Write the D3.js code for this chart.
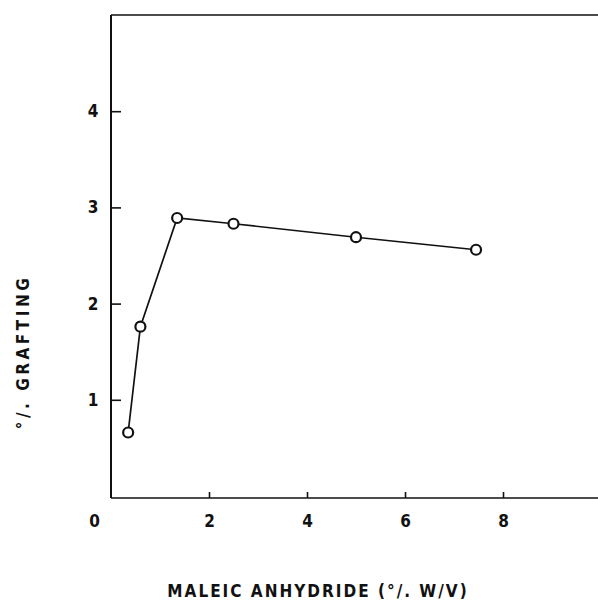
<!DOCTYPE html>
<html>
<head>
<meta charset="utf-8">
<script src="https://cdn.jsdelivr.net/npm/d3@7"></script>
<style>
  body { margin: 0; background: #fff; }
  svg { display: block; }
  text { font-family: "DejaVu Sans Condensed", "DejaVu Sans", sans-serif; font-weight: bold; fill: #111; }
</style>
</head>
<body>
<svg id="chart" width="598" height="600"></svg>
<script>
// maleic anhydride concentration (% w/v) vs % grafting
var anhydride = [0.35, 0.6, 1.35, 2.5, 5.0, 7.45];
var grafting = [0.66, 1.76, 2.89, 2.83, 2.69, 2.56];
var xTicks = [0, 2, 4, 6, 8];
var yTicks = [1, 2, 3, 4];

var svg = d3.select('#chart');

var x = d3.scaleLinear().domain([0, 10]).range([111, 601]);
var y = d3.scaleLinear().domain([0, 5]).range([496, 15]);

var points = anhydride.map(function(d, i) {
    return { x: d, y: grafting[i] };
});

// frame: left, bottom, top (right side runs off the page)
svg.append('line')
    .attr('x1', x(0)).attr('x2', x(0))
    .attr('y1', y(5)).attr('y2', 498)
    .attr('stroke', '#111').attr('stroke-width', 2);
svg.append('line')
    .attr('x1', x(0)).attr('x2', 598)
    .attr('y1', 498).attr('y2', 498)
    .attr('stroke', '#111').attr('stroke-width', 1.6);
svg.append('line')
    .attr('x1', x(0)).attr('x2', 598)
    .attr('y1', y(5)).attr('y2', y(5))
    .attr('stroke', '#111').attr('stroke-width', 1.6);

// y axis, ticks pointing inward
var yAxis = d3.axisRight(y)
    .tickValues(yTicks)
    .tickSize(10)
    .tickFormat(d3.format('d'));
var gy = svg.append('g')
    .attr('transform', 'translate(' + x(0) + ',0)')
    .call(yAxis);
gy.select('.domain').remove();
gy.selectAll('.tick line').attr('stroke', '#111').attr('stroke-width', 1.6);
gy.selectAll('.tick text')
    .attr('x', -18)
    .attr('text-anchor', 'middle')
    .attr('font-size', 17);

// x axis, ticks pointing up
var xAxis = d3.axisBottom(x)
    .tickValues(xTicks)
    .tickSize(-6)
    .tickFormat(d3.format('d'));
var gx = svg.append('g')
    .attr('transform', 'translate(0,498)')
    .call(xAxis);
gx.select('.domain').remove();
gx.selectAll('.tick line')
    .attr('stroke', '#111').attr('stroke-width', 1.6)
    .attr('opacity', function(d) { return d === 0 ? 0 : 1; });
gx.selectAll('.tick text')
    .attr('y', 17)
    .attr('dx', function(d) { return d === 0 ? -17 : 0; })
    .attr('font-size', 17);

// data line and open circles
var line = d3.line()
    .x(function(d) { return x(d.x); })
    .y(function(d) { return y(d.y); });

svg.append('path')
    .datum(points)
    .attr('d', line)
    .attr('fill', 'none')
    .attr('stroke', '#111')
    .attr('stroke-width', 1.7);

svg.selectAll('circle')
    .data(points)
    .enter()
    .append('circle')
    .attr('cx', function(d) { return x(d.x); })
    .attr('cy', function(d) { return y(d.y); })
    .attr('r', 5)
    .attr('fill', '#fff')
    .attr('stroke', '#111')
    .attr('stroke-width', 2.2);

// axis titles
svg.append('text')
    .attr('x', 318)
    .attr('y', 597)
    .attr('text-anchor', 'middle')
    .attr('font-size', 17)
    .attr('letter-spacing', 2)
    .text('MALEIC ANHYDRIDE (°/. W/V)');

svg.append('text')
    .attr('transform', 'translate(29,352) rotate(-90)')
    .attr('text-anchor', 'middle')
    .attr('font-size', 17)
    .attr('letter-spacing', 3.5)
    .text('°/.  GRAFTING');
</script>
</body>
</html>
